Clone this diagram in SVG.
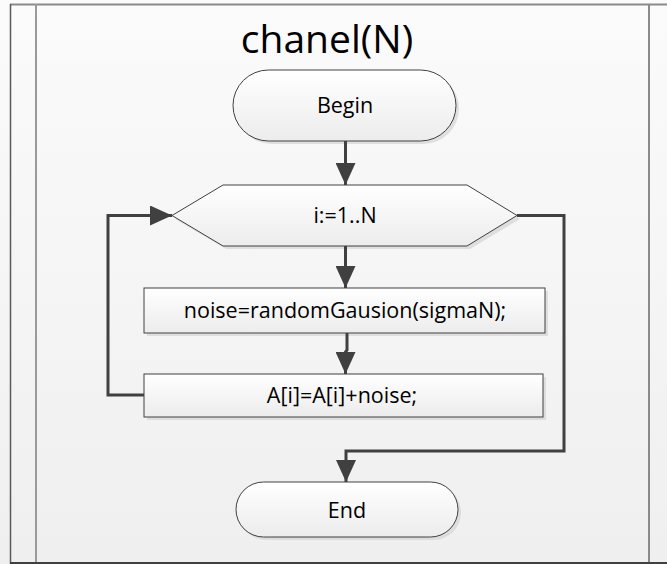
<svg xmlns="http://www.w3.org/2000/svg" width="667" height="564" viewBox="0 0 667 564">
<defs>
<linearGradient id="bg" x1="0" y1="0" x2="0" y2="1"><stop offset="0" stop-color="#fbfbfb"/><stop offset="1" stop-color="#efefef"/></linearGradient>
<linearGradient id="sh" x1="0" y1="0" x2="0" y2="1"><stop offset="0" stop-color="#ffffff"/><stop offset="1" stop-color="#ececec"/></linearGradient>
<marker id="ah" markerWidth="22" markerHeight="20" refX="22" refY="10" orient="auto" markerUnits="userSpaceOnUse" viewBox="0 0 22 20"><path d="M0,0 L22,10 L0,20 z" fill="#404040"/></marker>
</defs>
<style>
.shape{fill:url(#sh);stroke:#404040;stroke-width:1}
.shadow{fill:#d4d4d4;stroke:none;opacity:0.7}
.lbl{font-family:"Open Sans","Liberation Sans",sans-serif;font-size:21.5px;fill:#000;text-anchor:middle}
.conn{fill:none;stroke:#404040;stroke-width:3}
</style>
<rect x="0" y="0" width="667" height="564" fill="url(#bg)"/>
<g id="frame">
<line x1="10" y1="4.5" x2="667" y2="4.5" stroke="#8a8a8a" stroke-width="2"/>
<line x1="10.5" y1="4" x2="10.5" y2="564" stroke="#5a5a5a" stroke-width="1.5"/>
<line x1="36" y1="4" x2="36" y2="564" stroke="#9a9a9a" stroke-width="2"/>
<line x1="649" y1="4" x2="649" y2="564" stroke="#8a8a8a" stroke-width="2"/>
<line x1="10" y1="563" x2="667" y2="563" stroke="#404040" stroke-width="2"/>
</g>
<text x="327" y="53" font-family="'Open Sans','Liberation Sans',sans-serif" font-size="39" text-anchor="middle" fill="#000">chanel(N)</text>
<g id="begin">
<rect class="shadow" x="236" y="73" width="223" height="71" rx="35.5"/>
<rect class="shape" x="233" y="70" width="223" height="71" rx="35.5"/>
<text class="lbl" x="345" y="113">Begin</text>
</g>
<g id="loop">
<polygon class="shadow" points="175,219 226,189 470,189 520,219 470,249 226,249"/>
<polygon class="shape" points="172,215.5 223,185 467,185 517,215.5 467,246 223,246"/>
<text class="lbl" x="345" y="223">i:=1..N</text>
</g>
<g id="noise">
<rect class="shadow" x="147" y="291" width="401" height="45"/>
<rect class="shape" x="144" y="288" width="401" height="45"/>
<text class="lbl" x="345" y="318">noise=randomGausion(sigmaN);</text>
</g>
<g id="update">
<rect class="shadow" x="147" y="377" width="399" height="43"/>
<rect class="shape" x="144" y="374" width="399" height="43"/>
<text class="lbl" x="342" y="403">A[i]=A[i]+noise;</text>
</g>
<g id="end">
<rect class="shadow" x="239" y="485" width="222" height="55" rx="27.5"/>
<rect class="shape" x="236" y="482" width="222" height="55" rx="27.5"/>
<text class="lbl" x="347" y="518">End</text>
</g>
<g id="connectors">
<path class="conn" d="M345.5,141 V185" marker-end="url(#ah)"/>
<path class="conn" d="M345.5,246 V288" marker-end="url(#ah)"/>
<path class="conn" d="M347,333 V350 L345.5,352 V374" marker-end="url(#ah)"/>
<path class="conn" d="M144,395 H108 V215.5 H172" marker-end="url(#ah)"/>
<path class="conn" d="M517,215.5 H564 V451 H346 V482" marker-end="url(#ah)"/>
</g>
</svg>
